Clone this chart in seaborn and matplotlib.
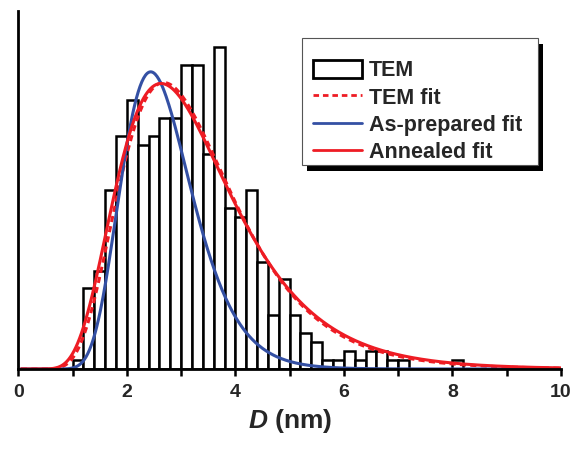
import numpy as np
import pandas as pd
import seaborn as sns
import matplotlib.pyplot as plt
from matplotlib.patches import Rectangle, Patch
from matplotlib.lines import Line2D

# Histogram of particle diameters (TEM), 0.2 nm bins starting at 1.0 nm
bin_width = 0.2
bin_start = 1.0
tem_counts = [1, 9, 11, 20, 26, 30, 25, 26, 28, 28, 34, 34, 24, 36, 18, 17, 20, 12,
              6, 10, 6, 4, 3, 1, 1, 2, 1, 2, 2, 1, 1, 0, 0, 0, 0, 1]

# Log-normal fits: mode (nm), sigma (log-width), peak height (counts)
tem_fit = {'mode': 2.68, 'sigma': 0.385, 'peak': 32.0}
asprep_fit = {'mode': 2.44, 'sigma': 0.265, 'peak': 33.2}
anneal_fit = {'mode': 2.63, 'sigma': 0.40, 'peak': 31.9}

x_ticks = [0, 2, 4, 6, 8, 10]
legend_labels = ['TEM', 'TEM fit', 'As-prepared fit', 'Annealed fit']

red = '#ee1c24'
blue = '#3450a4'


def lognormal(x, p):
    return p['peak'] * np.exp(-np.log(x / p['mode']) ** 2 / (2 * p['sigma'] ** 2))


sns.set_theme(style='white')
plt.rcParams['font.family'] = ['Liberation Sans', 'DejaVu Sans']
plt.rcParams['font.weight'] = 'bold'
plt.rcParams['mathtext.fontset'] = 'custom'
plt.rcParams['mathtext.it'] = 'Liberation Sans:italic:bold'

n_bins = len(tem_counts)
centers = bin_start + bin_width * (np.arange(n_bins) + 0.5)
df = pd.DataFrame({'D': centers, 'n': tem_counts})

xs = np.linspace(0.05, 10, 600)
curves = pd.DataFrame({'D': xs,
                       'tem': lognormal(xs, tem_fit),
                       'asprep': lognormal(xs, asprep_fit),
                       'anneal': lognormal(xs, anneal_fit)})

fig = plt.figure(figsize=(5.71, 4.5), dpi=100)
ax = fig.add_axes([0.032, 0.18, 0.9505, 0.7956])

sns.histplot(data=df, x='D', weights='n', binwidth=bin_width,
             binrange=(bin_start, bin_start + bin_width * n_bins), color='white',
             edgecolor='black', linewidth=1.8, alpha=1, ax=ax)
sns.lineplot(data=curves, x='D', y='tem', color=red, linestyle=(0, (2.0, 1.4)),
             linewidth=2.2, ax=ax)
sns.lineplot(data=curves, x='D', y='asprep', color=blue, linewidth=2.2, ax=ax)
sns.lineplot(data=curves, x='D', y='anneal', color=red, linewidth=2.2, ax=ax)

ax.set_xlim(0, 10)
ax.set_ylim(0, 40)
ax.set_yticks([])
ax.set_ylabel('')
ax.set_xticks(x_ticks)
ax.set_xticks([1, 3, 5, 7, 9], minor=True)
ax.set_xticklabels([str(t) for t in x_ticks], fontsize=14, fontweight='bold')
ax.tick_params(axis='x', which='both', direction='out', length=5, width=1.8,
               color='black', bottom=True, pad=6)
ax.set_xlabel(r'$\mathit{D}$ (nm)', fontsize=19, fontweight='bold', labelpad=4)
for s in ['top', 'right']:
    ax.spines[s].set_visible(False)
for s in ['left', 'bottom']:
    ax.spines[s].set_linewidth(2)
    ax.spines[s].set_color('black')

# legend box with a solid drop shadow
W, H = 571, 450
bx0, by0, bx1, by1 = 301.7, 37.7, 538.3, 165.0
fig.patches.append(Rectangle(((bx0 + 5) / W, 1 - (by1 + 6) / H), (bx1 - bx0) / W,
                             (by1 - by0) / H, transform=fig.transFigure,
                             facecolor='black', edgecolor='none', zorder=5))
fig.patches.append(Rectangle((bx0 / W, 1 - by1 / H), (bx1 - bx0) / W, (by1 - by0) / H,
                             transform=fig.transFigure, facecolor='white',
                             edgecolor='#555555', linewidth=0.8, zorder=6))

handles = [Patch(facecolor='white', edgecolor='black', linewidth=2.0),
           Line2D([], [], color=red, linestyle=(0, (2.0, 1.4)), linewidth=2.0),
           Line2D([], [], color=blue, linewidth=2.0),
           Line2D([], [], color=red, linewidth=2.0)]
leg = fig.legend(handles, legend_labels, loc='upper left',
                 bbox_to_anchor=(312.7 / W, 1 - 60.0 / H), frameon=False,
                 prop={'weight': 'bold', 'size': 15.5}, handlelength=2.3,
                 handleheight=0.9, handletextpad=0.3, labelspacing=0.27,
                 borderpad=0, borderaxespad=0)
leg.set_zorder(7)

plt.savefig('out.png', dpi=100)
